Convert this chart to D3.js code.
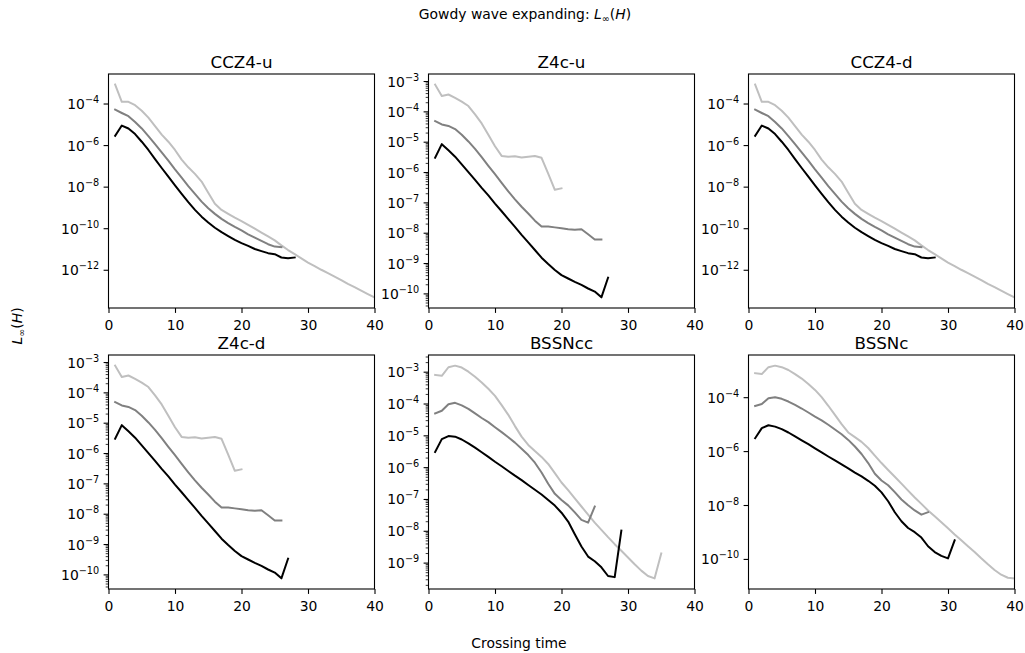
<!DOCTYPE html>
<html>
<head>
<meta charset="utf-8">
<script src="https://cdn.jsdelivr.net/npm/d3@7"></script>
<style>
  body { margin: 0; background: #fff; }
  svg { display: block; font-family: "DejaVu Sans", sans-serif; }
</style>
</head>
<body>
<svg id="chart" width="1025" height="653"></svg>
<script>
// crossing times at which the constraint norm was sampled
const crossingTimes = [1, 2, 3, 4, 5, 6, 7, 8, 9, 10, 11, 12, 13, 14, 15, 16, 17, 18, 19, 20,
  21, 22, 23, 24, 25, 26, 27, 28, 29, 30, 31, 32, 33, 34, 35, 36, 37, 38, 39, 40];
const xTicks = [0, 10, 20, 30, 40];
const panelTitles = ["CCZ4-u", "Z4c-u", "CCZ4-d", "Z4c-d", "BSSNcc", "BSSNc"];

// CCZ4 (u and d look the same)
const ccz4Coarse = [8.1e-4, 1.2e-4, 1.2e-4, 8.3e-5, 4.5e-5, 2.1e-5, 8.1e-6, 3.2e-6, 1.45e-6, 5.8e-7,
  2.0e-7, 8.5e-8, 4.1e-8, 1.75e-8, 5.1e-9, 1.5e-9, 7.6e-10, 4.9e-10, 3.2e-10, 2.2e-10,
  1.45e-10, 9.5e-11, 6.2e-11, 4.0e-11, 2.6e-11, 1.5e-11, 8.9e-12, 5.6e-12, 3.5e-12, 2.2e-12,
  1.5e-12, 1.0e-12, 6.9e-13, 4.7e-13, 3.2e-13, 2.1e-13, 1.45e-13, 1.0e-13, 6.8e-14, 4.7e-14];
const ccz4Medium = [5.1e-5, 3.5e-5, 2.45e-5, 1.3e-5, 6.3e-6, 2.7e-6, 1.1e-6, 4.5e-7, 1.8e-7, 6.8e-8,
  2.7e-8, 1.07e-8, 4.5e-9, 1.9e-9, 9.1e-10, 4.9e-10, 2.8e-10, 1.75e-10, 1.15e-10, 7.8e-11,
  5.1e-11, 3.5e-11, 2.45e-11, 1.7e-11, 1.3e-11, 1.23e-11];
const ccz4Fine = [2.8e-6, 8.7e-6, 6.3e-6, 3.4e-6, 1.45e-6, 5.8e-7, 2.1e-7, 7.9e-8, 3.0e-8, 1.15e-8,
  4.5e-9, 1.8e-9, 7.6e-10, 3.6e-10, 1.9e-10, 1.05e-10, 6.5e-11, 4.2e-11, 2.75e-11, 1.9e-11,
  1.4e-11, 1.0e-11, 7.9e-12, 6.3e-12, 5.6e-12, 3.9e-12, 3.6e-12, 3.9e-12];

// Z4c (u and d look the same)
const z4cCoarse = [7.6e-4, 3.2e-4, 3.6e-4, 2.8e-4, 2.1e-4, 1.5e-4, 7.9e-5, 4.0e-5, 1.7e-5, 7.1e-6,
  3.4e-6, 3.2e-6, 3.3e-6, 3.0e-6, 3.2e-6, 3.4e-6, 2.95e-6, 8.9e-7, 2.6e-7, 2.9e-7];
const z4cMedium = [4.8e-5, 3.7e-5, 3.3e-5, 2.6e-5, 1.7e-5, 1.02e-5, 5.8e-6, 3.1e-6, 1.6e-6, 8.5e-7,
  4.4e-7, 2.3e-7, 1.26e-7, 7.2e-8, 4.3e-8, 2.5e-8, 1.6e-8, 1.6e-8, 1.5e-8, 1.4e-8,
  1.3e-8, 1.26e-8, 1.3e-8, 8.9e-9, 6.0e-9, 6.0e-9];
const z4cFine = [2.95e-6, 8.3e-6, 5.2e-6, 3.2e-6, 1.8e-6, 1.0e-6, 5.5e-7, 3.0e-7, 1.7e-7, 9.1e-8,
  5.1e-8, 2.8e-8, 1.55e-8, 8.5e-9, 4.8e-9, 2.7e-9, 1.5e-9, 9.3e-10, 5.9e-10, 4.0e-10,
  3.1e-10, 2.4e-10, 1.9e-10, 1.45e-10, 1.15e-10, 7.4e-11, 3.3e-10];

// BSSNcc
const bssnccCoarse = [7.9e-4, 7.4e-4, 1.38e-3, 1.55e-3, 1.35e-3, 1.0e-3, 6.9e-4, 4.6e-4, 2.9e-4, 1.74e-4,
  8.9e-5, 4.4e-5, 1.95e-5, 9.1e-6, 5.0e-6, 3.2e-6, 2.1e-6, 1.26e-6, 6.5e-7, 3.3e-7,
  1.9e-7, 1.05e-7, 5.8e-8, 3.2e-8, 1.8e-8, 1.07e-8, 6.3e-9, 3.8e-9, 2.35e-9, 1.45e-9,
  8.9e-10, 5.6e-10, 3.8e-10, 3.2e-10, 1.95e-9];
const bssnccMedium = [4.9e-5, 5.9e-5, 9.5e-5, 1.05e-4, 8.7e-5, 6.8e-5, 4.9e-5, 3.5e-5, 2.6e-5, 1.8e-5,
  1.26e-5, 8.7e-6, 5.9e-6, 3.8e-6, 2.4e-6, 1.38e-6, 6.8e-7, 3.0e-7, 1.45e-7, 9.3e-8,
  6.3e-8, 3.8e-8, 2.2e-8, 1.8e-8, 5.8e-8];
const bssnccFine = [3.0e-6, 7.6e-6, 9.5e-6, 9.1e-6, 7.4e-6, 5.6e-6, 4.1e-6, 2.95e-6, 2.1e-6, 1.48e-6,
  1.07e-6, 7.6e-7, 5.4e-7, 3.9e-7, 2.75e-7, 1.95e-7, 1.38e-7, 9.3e-8, 6.2e-8, 3.7e-8,
  1.95e-8, 7.8e-9, 3.2e-9, 1.55e-9, 1.1e-9, 7.1e-10, 3.8e-10, 3.5e-10, 1.02e-8];

// BSSNc
const bssncCoarse = [7.8e-4, 7.2e-4, 1.3e-3, 1.48e-3, 1.3e-3, 1.02e-3, 7.2e-4, 4.9e-4, 3.1e-4, 1.86e-4,
  1.0e-4, 4.8e-5, 2.2e-5, 1.0e-5, 4.9e-6, 3.3e-6, 2.2e-6, 1.3e-6, 6.8e-7, 3.6e-7,
  2.0e-7, 1.12e-7, 6.2e-8, 3.4e-8, 1.9e-8, 1.1e-8, 6.3e-9, 3.8e-9, 2.3e-9, 1.38e-9,
  8.1e-10, 4.9e-10, 2.95e-10, 1.8e-10, 1.05e-10, 6.3e-11, 3.9e-11, 2.6e-11, 2.0e-11, 1.9e-11];
const bssncMedium = [4.7e-5, 5.6e-5, 9.1e-5, 1.0e-4, 8.7e-5, 6.9e-5, 5.2e-5, 3.8e-5, 2.7e-5, 1.9e-5,
  1.38e-5, 9.5e-6, 6.3e-6, 4.2e-6, 2.6e-6, 1.48e-6, 7.8e-7, 3.6e-7, 1.45e-7, 8.1e-8,
  5.4e-8, 3.0e-8, 1.6e-8, 9.8e-9, 6.3e-9, 4.4e-9, 5.4e-9];
const bssncFine = [3.0e-6, 7.1e-6, 9.1e-6, 8.1e-6, 6.5e-6, 4.9e-6, 3.5e-6, 2.5e-6, 1.8e-6, 1.26e-6,
  8.9e-7, 6.3e-7, 4.5e-7, 3.2e-7, 2.3e-7, 1.6e-7, 1.15e-7, 7.9e-8, 5.2e-8, 2.95e-8,
  1.38e-8, 5.4e-9, 2.5e-9, 1.4e-9, 9.8e-10, 6.2e-10, 2.95e-10, 1.8e-10, 1.3e-10, 1.05e-10, 4.9e-10];

const panelSeries = [
  [ccz4Coarse, ccz4Medium, ccz4Fine],
  [z4cCoarse, z4cMedium, z4cFine],
  [ccz4Coarse, ccz4Medium, ccz4Fine],
  [z4cCoarse, z4cMedium, z4cFine],
  [bssnccCoarse, bssnccMedium, bssnccFine],
  [bssncCoarse, bssncMedium, bssncFine]
];
const lineColors = ["#bfbfbf", "#808080", "#000000"];

const colLeft = [108.5, 428.5, 748.5];
const rowTop = [74, 355];
const pw = 266, ph = 234;
const tickFont = 13.9;

const svg = d3.select("#chart");

panelTitles.forEach((title, i) => {
  const left = colLeft[i % 3], top = rowTop[Math.floor(i / 3)];
  const series = panelSeries[i];
  const g = svg.append("g").attr("transform", `translate(${left},${top})`);

  const all = series.flat();
  const lo = Math.log10(d3.min(all)), hi = Math.log10(d3.max(all));
  const pad = (hi - lo) * 0.05;
  const x = d3.scaleLinear().domain([0, 40]).range([0, pw]);
  const y = d3.scaleLog().domain([10 ** (lo - pad), 10 ** (hi + pad)]).range([ph, 0]);

  // matplotlib-ish log locator: skip decades when too many
  const eMin = Math.ceil(lo - pad), eMax = Math.floor(hi + pad);
  const stride = Math.floor((eMax - eMin) / 8) + 1;
  const majors = d3.range(eMin, eMax + 1).filter(e => e % stride === 0);

  const clipId = "clip" + i;
  g.append("clipPath").attr("id", clipId)
    .append("rect").attr("width", pw).attr("height", ph);

  const line = d3.line()
    .x((d, j) => x(crossingTimes[j]))
    .y(d => y(d));

  g.append("g").attr("clip-path", `url(#${clipId})`)
    .selectAll("path")
    .data(series)
    .join("path")
    .attr("d", line)
    .attr("fill", "none")
    .attr("stroke", (_, k) => lineColors[k])
    .attr("stroke-width", 2)
    .attr("stroke-linejoin", "round")
    .attr("stroke-linecap", "square");

  if (stride === 1) {
    const minors = [];
    for (let e = eMin - 1; e <= eMax; e++) {
      for (let m = 2; m <= 9; m++) {
        const v = m * 10 ** e;
        if (v >= y.domain()[0] && v <= y.domain()[1]) minors.push(v);
      }
    }
    const ma = g.append("g")
      .call(d3.axisLeft(y).tickValues(minors).tickSize(2.8).tickSizeOuter(0).tickFormat(""));
    ma.select(".domain").remove();
    ma.selectAll("line").attr("stroke-width", 0.8);
  }

  const ya = g.append("g")
    .call(d3.axisLeft(y).tickValues(majors.map(e => 10 ** e)).tickSize(4.9).tickPadding(4.4).tickSizeOuter(0));
  ya.select(".domain").remove();
  ya.selectAll("line").attr("stroke-width", 1.1);
  ya.selectAll("text")
    .attr("font-family", "DejaVu Sans")
    .attr("font-size", tickFont)
    .attr("fill", "#000")
    .attr("dy", "0.36em")
    .each(function (d) {
      const t = d3.select(this).text("");
      t.append("tspan").text("10");
      t.append("tspan").attr("font-size", 9.7).attr("dy", -6)
        .text("\u2212" + Math.abs(Math.round(Math.log10(d))));
    });

  const xa = g.append("g").attr("transform", `translate(0,${ph})`)
    .call(d3.axisBottom(x).tickValues(xTicks).tickSize(4.9).tickPadding(4.9).tickSizeOuter(0));
  xa.select(".domain").remove();
  xa.selectAll("line").attr("stroke-width", 1.1);
  xa.selectAll("text")
    .attr("font-family", "DejaVu Sans")
    .attr("font-size", tickFont)
    .attr("fill", "#000")
    .attr("dy", "0.9em");

  g.append("rect")
    .attr("width", pw).attr("height", ph)
    .attr("fill", "none").attr("stroke", "#000").attr("stroke-width", 1.1);

  g.append("text")
    .attr("x", pw / 2).attr("y", -6.5)
    .attr("text-anchor", "middle")
    .attr("font-size", 16.7)
    .text(title);
});

// suptitle
const sup = svg.append("text")
  .attr("x", 525).attr("y", 19)
  .attr("text-anchor", "middle")
  .attr("font-size", 13.9);
sup.append("tspan").text("Gowdy wave expanding: ");
sup.append("tspan").attr("font-style", "italic").text("L");
sup.append("tspan").attr("font-size", 9.7).attr("dy", 2.5).text("\u221e");
sup.append("tspan").attr("dy", -2.5).text("(");
sup.append("tspan").attr("font-style", "italic").text("H");
sup.append("tspan").text(")");

// shared y label
const yl = svg.append("text")
  .attr("transform", "translate(22,326) rotate(-90)")
  .attr("text-anchor", "middle")
  .attr("font-size", 13.9);
yl.append("tspan").attr("font-style", "italic").text("L");
yl.append("tspan").attr("font-size", 9.7).attr("dy", 2.5).text("\u221e");
yl.append("tspan").attr("dy", -2.5).text("(");
yl.append("tspan").attr("font-style", "italic").text("H");
yl.append("tspan").text(")");

// shared x label
svg.append("text")
  .attr("x", 519).attr("y", 648)
  .attr("text-anchor", "middle")
  .attr("font-size", 13.9)
  .text("Crossing time");
</script>
</body>
</html>
